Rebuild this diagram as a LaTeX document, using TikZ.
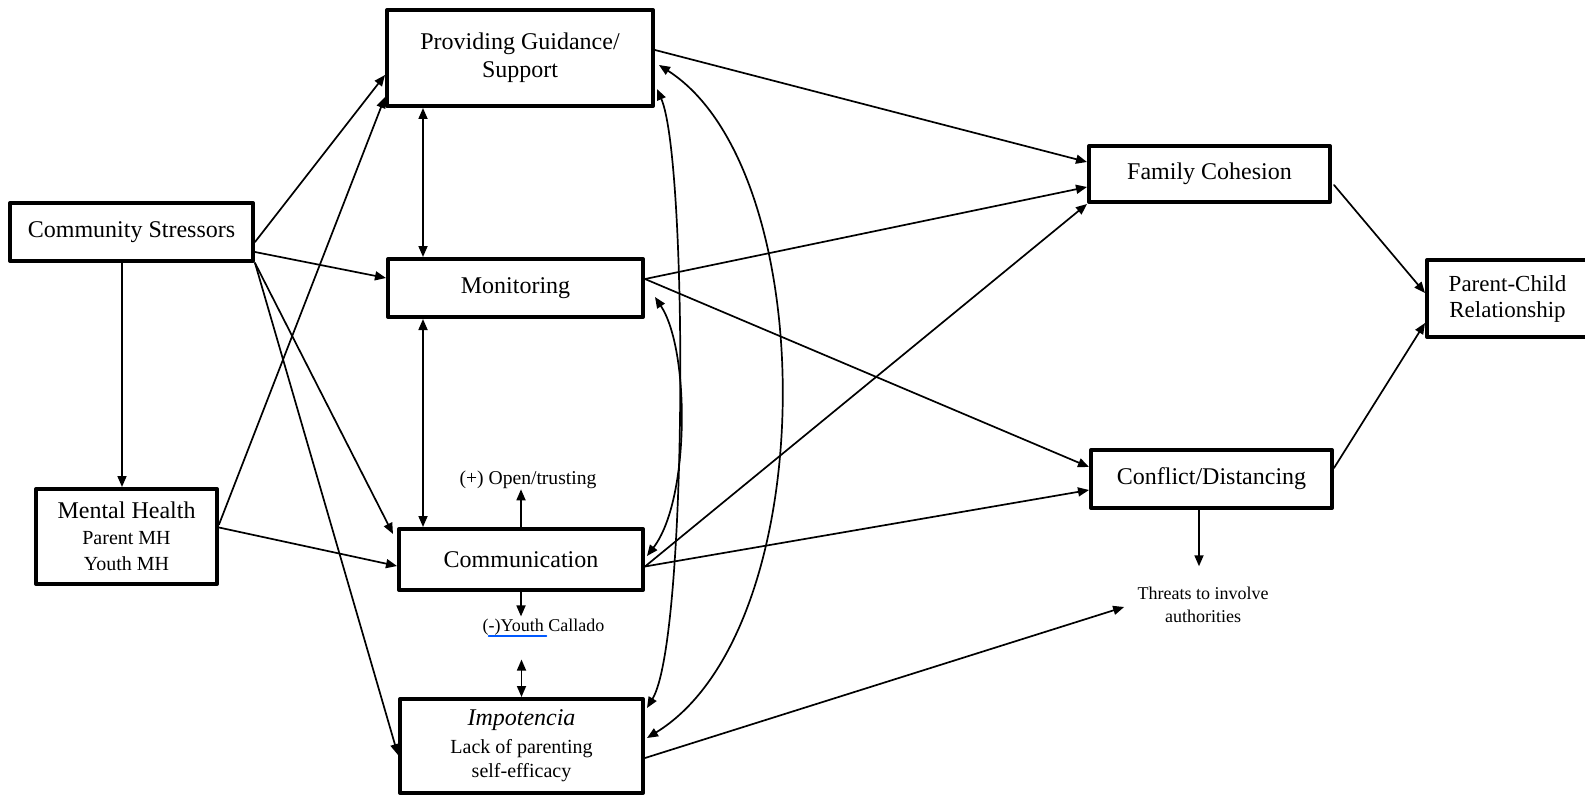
\documentclass[tikz,border=0pt]{standalone}
\usepackage{fontspec}
\setmainfont{Liberation Serif}
\usetikzlibrary{arrows.meta}

\begin{document}
\begin{tikzpicture}[x=0.5pt,y=-0.5pt,line cap=round,line join=round,>={Triangle[length=5.5pt,width=4.5pt]},
  every node/.style={inner sep=1pt},
  box/.style={draw,line width=2pt,line cap=rect,align=center,font=\fontsize{12}{14}\selectfont},
  link/.style={->,line width=0.85pt},
  both/.style={<->,line width=0.85pt}]
  \useasboundingbox (0,0) rectangle (1585,797);
  \node[box,minimum width=133pt,minimum height=48pt] (guide) at (520,58) {Providing Guidance/\\Support};
  \node[box,minimum width=127.5pt,minimum height=29pt] (monit) at (515.5,288) {Monitoring};
  \node[box,minimum width=122pt,minimum height=30.5pt] (commu) at (521,559.5) {Communication};
  \node[box,minimum width=121.5pt,minimum height=47pt,font=\fontsize{10}{12.2}\selectfont] (impot) at (521.5,746)
    {{\fontsize{12}{12}\selectfont\itshape Impotencia}\\[1.5pt]Lack of parenting\\self-efficacy};
  \node[box,minimum width=121.5pt,minimum height=29pt] (stress) at (131.5,232) {Community Stressors};
  \node[box,minimum width=90.5pt,minimum height=47.5pt,font=\fontsize{12}{13}\selectfont] (mental) at (126.5,536.5)
    {Mental Health\\{\fontsize{10}{12}\selectfont Parent MH}\\{\fontsize{10}{12}\selectfont Youth MH}};
  \node[box,minimum width=120.5pt,minimum height=28pt] (cohes) at (1209.5,174) {Family Cohesion};
  \node[box,minimum width=120.5pt,minimum height=29pt] (confl) at (1211.5,479) {Conflict/Distancing};
  \node[box,minimum width=80.5pt,minimum height=38.5pt,font=\fontsize{11.5}{13}\selectfont] (parent) at (1507.5,298.5)
    {Parent-Child\\Relationship};
  \node[font=\fontsize{9.8}{11}\selectfont] (opent) at (528,480) {(+) Open/trusting};
  \node[font=\fontsize{9}{11}\selectfont] (youth) at (543.5,627) {(-)Youth Callado};
  \node[align=center,font=\fontsize{9}{11.5}\selectfont] (threat) at (1203,604.5) {Threats to involve\\authorities};
  \draw[blue!65!cyan,line width=0.7pt] ([shift={(-55,9)}]youth.center) -- ([shift={(3,9)}]youth.center);

  \draw[link] ([shift={(0,10)}]stress.east) -- ([shift={(0,17)}]guide.west);
  \draw[link] ([shift={(0,20)}]stress.east) -- ([shift={(0,-10)}]monit.west);
  \draw[link] (stress.south east) -- ([shift={(-4,7)}]commu.north west);
  \draw[link] (stress.south east) -- ([shift={(0,9)}]impot.west);
  \draw[link] ([xshift=-2.25pt]mental.north |- stress.south) -- ([xshift=-2.25pt]mental.north);
  \draw[link] ([shift={(0,-12)}]mental.east) -- ([shift={(0,39)}]guide.west);
  \draw[link] ([shift={(0,-9)}]mental.east) -- ([shift={(0,6.5)}]commu.west);
  \draw[both] ([shift={(38,0)}]guide.south west) -- ([shift={(38,0)}]guide.south west |- monit.north);
  \draw[both] ([shift={(37,0)}]monit.south west) -- ([shift={(37,0)}]monit.south west |- commu.north);
  \draw[link] (commu.north) -- ([shift={(0,-2)}]commu.north |- opent.south);
  \draw[link] (commu.south) -- (commu.south |- youth.north);
  \draw[both] ([shift={(0,22)}]impot.north |- youth.south) -- (impot.north);
  \draw[link] ([shift={(0,-8)}]guide.east) -- ([shift={(0,-12)}]cohes.west);
  \draw[link] ([shift={(0,-9)}]monit.east) -- ([shift={(0,13)}]cohes.west);
  \draw[link] ([shift={(0,-9)}]monit.east) -- ([shift={(0,-12)}]confl.west);
  \draw[link] ([shift={(0,7)}]commu.east) -- (cohes.south west);
  \draw[link] ([shift={(0,7)}]commu.east) -- ([shift={(0,11)}]confl.west);
  \draw[link] ([shift={(2,11)}]cohes.east) -- ([shift={(0,-5.5)}]parent.west);
  \draw[link] ([shift={(0,-11)}]confl.east) -- ([shift={(0,24.5)}]parent.west);
  \draw[link] ([shift={(-12.5,0)}]confl.south) -- ([shift={(-4,-18)}]threat.north);
  \draw[link] ([shift={(0,12)}]impot.east) -- ([shift={(-11,2.5)}]threat.west);
  \draw[both] ([shift={(4,7)}]guide.east) .. controls (823,170) and (823,630) .. ([shift={(2,-8)}]impot.east);
  \draw[both] ([shift={(2,31)}]guide.east) .. controls (688,160) and (688,640) .. ([shift={(2,-38)}]impot.east);
  \draw[both] ([shift={(10,9)}]monit.east) .. controls (690,350) and (690,500) .. ([shift={(2,-3.5)}]commu.east);
\end{tikzpicture}
\end{document}
